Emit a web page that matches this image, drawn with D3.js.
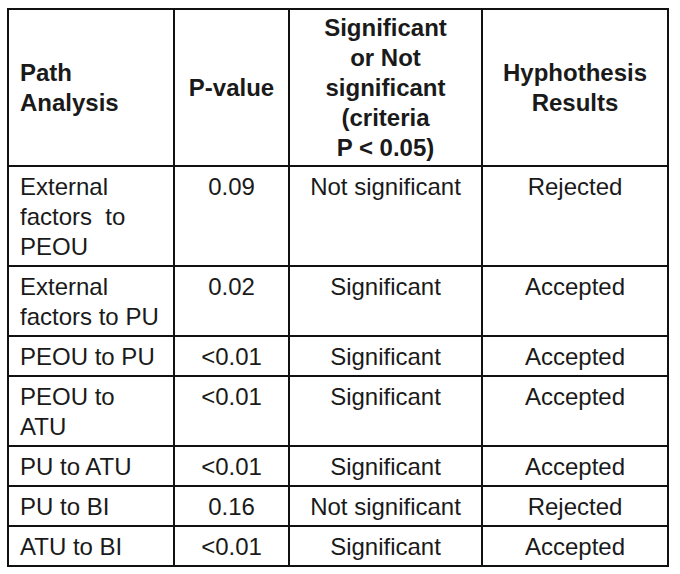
<!DOCTYPE html>
<html lang="en">
<head>
    <meta charset="UTF-8">
    <title>Path Analysis Hypothesis Table</title>
    <script src="https://d3js.org/d3.v7.min.js"></script>
    <style>
        body { margin: 0; background: #fff; }
        svg text {
            font-family: "Liberation Sans", Arial, sans-serif;
            font-size: 24px;
            fill: #1a1a1a;
        }
        .head text { font-weight: bold; }
    </style>
</head>
<body>
    <div id="tbl"></div>
    <script>
        // table content, "\n" marks where the original cell wraps
        var headers = ["Path\nAnalysis", "P-value", "Significant\nor Not\nsignificant\n(criteria\nP < 0.05)", "Hyphothesis\nResults"];
        var paths = ["External\nfactors  to\nPEOU", "External\nfactors to PU", "PEOU to PU", "PEOU to\nATU", "PU to ATU", "PU to BI", "ATU to BI"];
        var pValues = ["0.09", "0.02", "<0.01", "<0.01", "<0.01", "0.16", "<0.01"];
        var significance = ["Not significant", "Significant", "Significant", "Significant", "Significant", "Not significant", "Significant"];
        var results = ["Rejected", "Accepted", "Accepted", "Accepted", "Accepted", "Rejected", "Accepted"];

        var width = 680, height = 574;
        var colEdges = [8, 174, 289, 482, 668];
        var top0 = 9, headH = 157, lineH = 30, pad = 10;

        var svg = d3.select("#tbl")
            .append("svg")
            .attr("width", width)
            .attr("height", height);

        var rows = paths.map(function(p, i) {
            return [p, pValues[i], significance[i], results[i]];
        });

        // row heights follow the number of wrapped lines
        var rowH = rows.map(function(r) {
            var n = d3.max(r, function(c) { return c.split("\n").length; });
            return pad + n * lineH;
        });
        var rowTop = [top0 + headH];
        rowH.forEach(function(h, i) { rowTop.push(rowTop[i] + h); });
        var bottom = rowTop[rowTop.length - 1];

        var x = d3.scaleOrdinal().domain(d3.range(5)).range(colEdges);

        // header
        var head = svg.append("g").attr("class", "head");
        headers.forEach(function(h, c) {
            var lines = h.split("\n");
            var mid = top0 + headH / 2;
            var first = mid - (lines.length - 1) * lineH / 2 + 8;
            var t = head.append("text")
                .attr("text-anchor", c === 0 ? "start" : "middle");
            t.selectAll("tspan")
                .data(lines)
                .enter()
                .append("tspan")
                .attr("x", c === 0 ? x(0) + 12 : (x(c) + x(c + 1)) / 2)
                .attr("y", function(d, i) { return first + i * lineH; })
                .text(function(d) { return d; });
        });

        // body
        var body = svg.append("g").attr("class", "body");
        rows.forEach(function(r, ri) {
            r.forEach(function(cell, c) {
                var t = body.append("text")
                    .attr("text-anchor", c === 0 ? "start" : "middle")
                    .attr("xml:space", "preserve");
                t.selectAll("tspan")
                    .data(cell.split("\n"))
                    .enter()
                    .append("tspan")
                    .attr("x", c === 0 ? x(0) + 12 : (x(c) + x(c + 1)) / 2)
                    .attr("y", function(d, i) { return rowTop[ri] + 29 + i * lineH; })
                    .text(function(d) { return d; });
            });
        });

        // grid lines
        var grid = svg.append("g")
            .attr("stroke", "#111")
            .attr("stroke-width", 1.5)
            .attr("shape-rendering", "crispEdges");

        var hLines = [top0].concat(rowTop);
        grid.selectAll("line.h")
            .data(hLines)
            .enter()
            .append("line")
            .attr("class", "h")
            .attr("x1", x(0) - 1)
            .attr("x2", x(4) + 1)
            .attr("y1", function(d) { return d; })
            .attr("y2", function(d) { return d; });

        grid.selectAll("line.v")
            .data(colEdges)
            .enter()
            .append("line")
            .attr("class", "v")
            .attr("x1", function(d) { return d; })
            .attr("x2", function(d) { return d; })
            .attr("y1", top0)
            .attr("y2", bottom);
    </script>
</body>
</html>
